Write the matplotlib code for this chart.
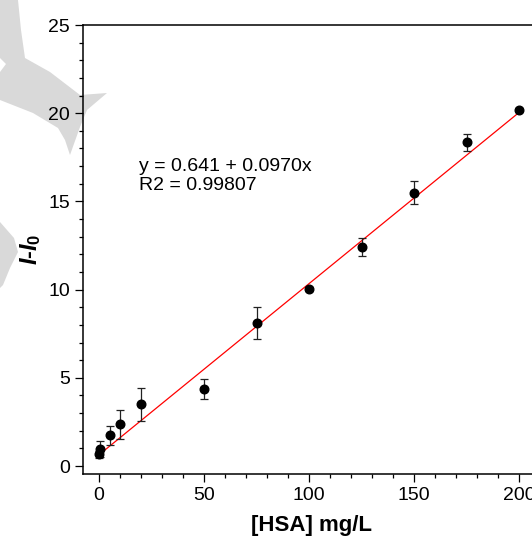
import matplotlib
matplotlib.use("Agg")
import matplotlib.pyplot as plt
from matplotlib.patches import Polygon
from matplotlib.ticker import MultipleLocator
import numpy as np

# HSA concentration (mg/L), intensity change and its standard deviation
hsa_conc = [0, 0.5, 5, 10, 20, 50, 75, 100, 125, 150, 175, 200]
delta_i = [0.68, 0.95, 1.74, 2.36, 3.50, 4.37, 8.10, 10.05, 12.41, 15.48, 18.35, 20.20]
delta_i_sd = [0.20, 0.45, 0.55, 0.80, 0.95, 0.57, 0.90, 0.10, 0.50, 0.65, 0.50, 0.10]

# linear calibration fit
intercept = 0.641
slope = 0.0970
r_squared = 0.99807

W, H = 532, 543
DPI = 100

plt.rcParams["font.family"] = ["Liberation Sans", "DejaVu Sans"]
plt.rcParams["mathtext.fontset"] = "custom"
plt.rcParams["mathtext.it"] = "Liberation Sans:bold:italic"
plt.rcParams["mathtext.rm"] = "Liberation Sans:bold"
plt.rcParams["mathtext.bf"] = "Liberation Sans:bold"

fig = plt.figure(figsize=(W / DPI, H / DPI), dpi=DPI)
fig.patch.set_facecolor("white")

# light grey background emblem
def px(points):
    return [(x / W, 1 - y / H) for x, y in points]

emblem_main = [(0, 0), (18, 0), (21, 30), (25, 58), (50, 72), (80, 95), (107, 93),
               (87, 110), (80, 127), (70, 155), (65, 140), (58, 128), (33, 113),
               (0, 100), (0, 72), (6, 64), (0, 58)]
emblem_low = [(0, 222), (14, 238), (18, 252), (10, 268), (3, 285), (0, 288)]
for pts in (emblem_main, emblem_low):
    fig.patches.append(Polygon(px(pts), closed=True, transform=fig.transFigure,
                               facecolor="#d9d9d9", edgecolor="none", zorder=-5))

x0_px, x1_px = 82.5, 540.0
y_top_px, y_bot_px = 25.0, 474.0
ax = fig.add_axes([x0_px / W, 1 - y_bot_px / H, (x1_px - x0_px) / W, (y_bot_px - y_top_px) / H])
ax.set_facecolor("none")

ax.set_xlim(-7.9, 210)
ax.set_ylim(-0.45, 25)

ax.errorbar(hsa_conc, delta_i, yerr=delta_i_sd, fmt="o", color="black",
            markersize=6.2, ecolor="#222222", elinewidth=0.9, capsize=2.6,
            capthick=0.9, zorder=3)

xs = np.array([min(hsa_conc), max(hsa_conc)])
ax.plot(xs, intercept + slope * xs, color="#ff0000", linewidth=0.9, zorder=2)

ax.text(19.0, 16.45, f"y = {intercept:.3f} + {slope:.4f}x\nR2 = {r_squared:.5f}",
        fontsize=14, ha="left", va="center", linespacing=1.2)

ax.xaxis.set_major_locator(MultipleLocator(50))
ax.xaxis.set_minor_locator(MultipleLocator(10))
ax.yaxis.set_major_locator(MultipleLocator(5))
ax.yaxis.set_minor_locator(MultipleLocator(1))

ax.tick_params(axis="both", which="major", direction="out", length=5.5, width=0.9,
               labelsize=14, colors="black")
ax.tick_params(axis="both", which="minor", direction="out", length=3.2, width=0.9)
ax.tick_params(axis="x", which="major", pad=3.5)
ax.tick_params(axis="y", which="major", pad=3.5)
ax.tick_params(top=False, right=False, which="both")

for side in ("left", "bottom", "top", "right"):
    ax.spines[side].set_linewidth(1.1)
    ax.spines[side].set_color("black")

ax.set_xlabel("[HSA] mg/L", fontsize=16, fontweight="bold", labelpad=8)
ax.set_ylabel(r"$I$-$I_0$", fontsize=17, fontweight="bold", labelpad=3.5)

fig.savefig("out.png", dpi=DPI)
